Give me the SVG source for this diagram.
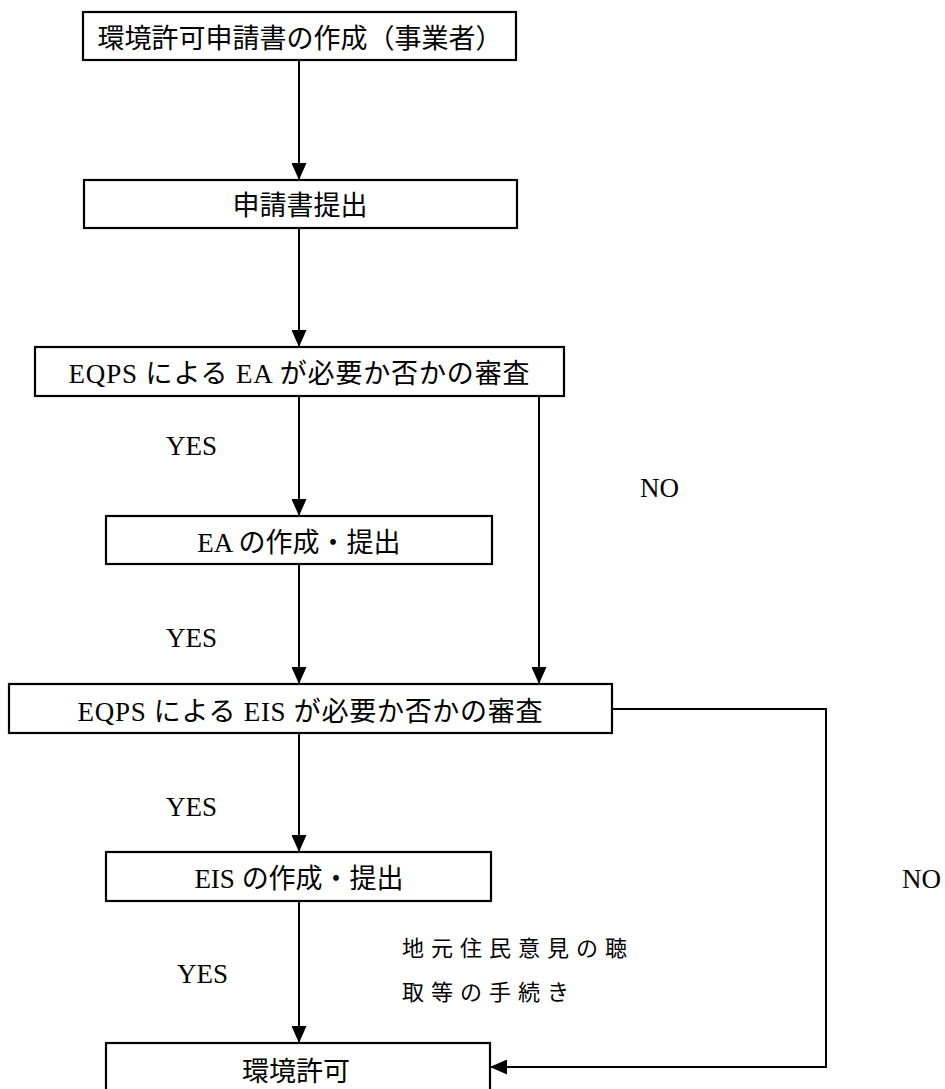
<svg xmlns="http://www.w3.org/2000/svg" width="945" height="1089" viewBox="0 0 945 1089">
<defs>
<marker id="arr" markerUnits="userSpaceOnUse" viewBox="0 0 17 15" refX="17" refY="7.5" markerWidth="17" markerHeight="15" orient="auto">
<path d="M0,0 L17,7.5 L0,15 z" fill="#000"/>
</marker>
<style>
.box{fill:#fff;stroke:#000;stroke-width:2.2}
.t{font-family:"Liberation Serif","Noto Sans CJK JP",serif;font-size:27px;fill:#000;text-anchor:middle}
.lbl{font-family:"Liberation Serif","Noto Sans CJK JP",serif;font-size:27px;fill:#000}
.note{font-family:"Noto Sans CJK JP",sans-serif;font-size:22px;fill:#000;letter-spacing:7px}
.c{fill:none;stroke:#000;stroke-width:2}
</style>
</defs>
<rect width="945" height="1089" fill="#fff"/>
<g id="connectors">
<line class="c" x1="299" y1="60" x2="299" y2="180" marker-end="url(#arr)"/>
<line class="c" x1="299" y1="228" x2="299" y2="347" marker-end="url(#arr)"/>
<line class="c" x1="299" y1="396" x2="299" y2="516" marker-end="url(#arr)"/>
<line class="c" x1="539" y1="396" x2="539" y2="684" marker-end="url(#arr)"/>
<line class="c" x1="299" y1="564" x2="299" y2="684" marker-end="url(#arr)"/>
<line class="c" x1="299" y1="733" x2="299" y2="852" marker-end="url(#arr)"/>
<line class="c" x1="299" y1="901" x2="299" y2="1043" marker-end="url(#arr)"/>
<polyline class="c" points="612,709 826,709 826,1067 490,1067" marker-end="url(#arr)"/>
<text class="lbl" x="166" y="455">YES</text>
<text class="lbl" x="640" y="497">NO</text>
<text class="lbl" x="166" y="647">YES</text>
<text class="lbl" x="166" y="816">YES</text>
<text class="lbl" x="902" y="888">NO</text>
<text class="lbl" x="177" y="983">YES</text>
<text class="note" x="402" y="956">地元住民意見の聴</text>
<text class="note" x="402" y="1000">取等の手続き</text>
</g>
<g id="n1">
<rect class="box" x="83" y="12" width="433" height="48"/>
<text class="t" x="300" y="48">環境許可申請書の作成（事業者）</text>
</g>
<g id="n2">
<rect class="box" x="84" y="180" width="433" height="48"/>
<text class="t" x="300" y="215">申請書提出</text>
</g>
<g id="n3">
<rect class="box" x="35" y="347" width="529" height="49"/>
<text class="t" x="299" y="383" textLength="461" lengthAdjust="spacing">EQPS による EA が必要か否かの審査</text>
</g>
<g id="n4">
<rect class="box" x="106" y="516" width="386" height="48"/>
<text class="t" x="299" y="552">EA の作成・提出</text>
</g>
<g id="n5">
<rect class="box" x="9" y="684" width="603" height="49"/>
<text class="t" x="310" y="721" textLength="465" lengthAdjust="spacing">EQPS による EIS が必要か否かの審査</text>
</g>
<g id="n6">
<rect class="box" x="106" y="852" width="385" height="49"/>
<text class="t" x="299" y="888">EIS の作成・提出</text>
</g>
<g id="n7">
<rect class="box" x="106" y="1043" width="384" height="60"/>
<text class="t" x="296" y="1081">環境許可</text>
</g>
</svg>
